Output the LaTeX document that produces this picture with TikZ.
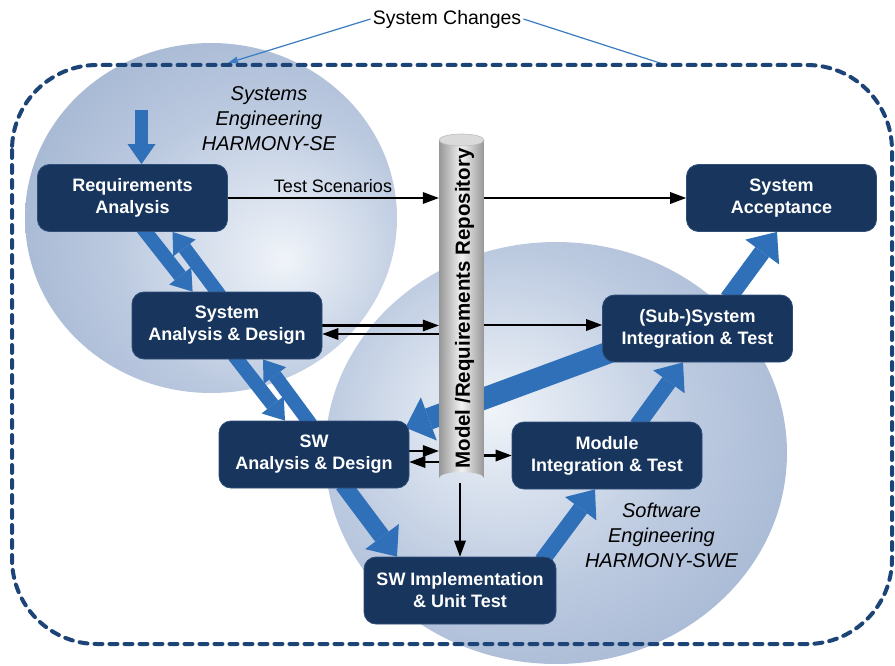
\documentclass[tikz,border=0pt]{standalone}
\usepackage{fontspec}
\setmainfont{Liberation Sans}
\usetikzlibrary{arrows.meta,calc}
\definecolor{boxfill}{HTML}{17355D}
\definecolor{boxline}{HTML}{2E4E7A}
\definecolor{fatblue}{HTML}{2F70B8}
\definecolor{dashblue}{HTML}{1D4477}
\definecolor{thinblue}{HTML}{3A7BC4}
\definecolor{sphl}{HTML}{F0F4F9}
\definecolor{sphm}{HTML}{BCCAE0}
\definecolor{sphd}{HTML}{8BA1C3}
\definecolor{cylside}{HTML}{979797}
\definecolor{cylmid}{HTML}{F2F2F2}
\definecolor{cyltop}{HTML}{DADADA}
\definecolor{cyledge}{HTML}{BDBDBD}
\pgfdeclareradialshading{seball}{\pgfpoint{10bp}{-6bp}}{color(0bp)=(sphl); color(20bp)=(sphm); color(50bp)=(sphd); color(80bp)=(sphd)}
\pgfdeclareradialshading{sweball}{\pgfpoint{-7bp}{5bp}}{color(0bp)=(sphl); color(20bp)=(sphm); color(50bp)=(sphd); color(80bp)=(sphd)}
\pgfdeclarelayer{sphlayer}
\pgfdeclarelayer{arrlayer}
\pgfdeclarelayer{cyllayer}
\pgfsetlayers{sphlayer,arrlayer,cyllayer,main}
\begin{document}
\begin{tikzpicture}[x=1pt,y=-1pt,
  box/.style={rectangle, rounded corners=12pt, fill=boxfill, draw=boxline, line width=0.8pt,
    text=white, font=\bfseries\fontsize{18}{22}\selectfont, align=center,
    minimum width=190pt, minimum height=67pt, inner sep=2pt},
  fat/.style={draw=fatblue, line width=14pt, -{Triangle[length=20pt,width=28pt,line width=0pt]}},
  fatter/.style={draw=fatblue, line width=17pt, -{Triangle[length=25pt,width=42pt,line width=0pt]}},
  fattest/.style={draw=fatblue, line width=22pt, -{Triangle[length=25pt,width=46pt,line width=0pt]}},
  flow/.style={draw=black, line width=2.4pt, -{Triangle[length=16pt,width=12pt,line width=0pt]}},
  ital/.style={font=\itshape\fontsize{20}{25}\selectfont, align=center},
  dashbox/.style={draw=dashblue, line width=4pt, line cap=round, dash pattern=on 8pt off 7pt, rounded corners=85pt},
  thin/.style={draw=thinblue, line width=1.2pt}
]
\useasboundingbox (0,0) rectangle (895,666);

% process boxes (main layer, on top of everything)
\node[box] (req) at (132.5,198) {Requirements\\Analysis};
\node[box] (sysad) at (227,325.5) {System\\Analysis \& Design};
\node[box] (swad) at (314,454.5) {SW\\Analysis \& Design};
\node[box, minimum width=192pt] (swimpl) at (460,590.5) {SW Implementation\\\& Unit Test};
\node[box] (module) at (607,455.5) {Module\\Integration \& Test};
\node[box] (subsys) at (697.5,328.5) {(Sub-)System\\Integration \& Test};
\node[box] (accept) at (781.5,198) {System\\Acceptance};
\node[minimum width=45pt, minimum height=344pt, inner sep=0pt] (repo) at (461.5,311) {};

% sphere labels
\node[ital] (selab) at (269,119) {Systems\\Engineering\\HARMONY-SE};
\node[ital] (swelab) at (661.5,535) {Software\\Engineering\\HARMONY-SWE};

% spheres, boundary, system changes
\begin{pgfonlayer}{sphlayer}
\shade[shading=seball] (211,218) ellipse [x radius=186, y radius=175];
\shade[shading=sweball] (556,453) ellipse [x radius=231, y radius=211];
\node[font=\fontsize{19.5}{22}\selectfont, inner sep=2pt] (sc) at (447,19) {System Changes};
\coordinate (scl) at (228,63);
\coordinate (scr) at (663,64);
\draw[thin, -{Triangle[length=10pt,width=7pt,line width=0pt]}] (sc.west) -- (scl);
\draw[thin] (sc.east) -- (scr);
\draw[dashbox] (12,65) rectangle (892,644);
\end{pgfonlayer}

% blue process arrows
\begin{pgfonlayer}{arrlayer}
\coordinate (intop) at (141.5,110);
\draw[fat, line width=13pt] (intop) -- ($(req.north)+(9,0)$);
\draw[fat] ($(req.south)+(10,-4)$) -- ($(sysad.north west)+(61,0)$);
\draw[fat] ($(sysad.north)+(-7,4)$) -- ($(req.south)+(40,0)$);
\draw[fat] ($(sysad.south)+(7,-4)$) -- ($(swad.north)+(-29,0)$);
\draw[fat] ($(swad.north)+(-3,4)$) -- ($(sysad.south)+(36,0)$);
\draw[fatter] ($(swad.south)+(29,-4)$) -- ($(swimpl.north)+(-63,0)$);
\draw[fatter, line width=16pt, -{Triangle[length=24pt,width=39pt,line width=0pt]}] ($(swimpl.north)+(82,4)$) -- ($(module.south)+(-12,0)$);
\draw[fatter, line width=16pt, -{Triangle[length=24pt,width=39pt,line width=0pt]}] ($(module.north)+(30,4)$) -- ($(subsys.south)+(-14.5,0)$);
\draw[fatter] ($(subsys.north)+(30.5,4)$) -- ($(accept.south)+(-4.5,0)$);
\draw[fattest] ($(subsys.west)+(12,22)$) -- ($(swad.north east)+(-4,7)$);
\end{pgfonlayer}

% repository cylinder and information flows
\begin{pgfonlayer}{cyllayer}
\shade[left color=cylside, right color=cylside, middle color=cylmid]
  (439,140) -- (439,478) arc[start angle=180, end angle=360, x radius=22.5, y radius=6] -- (484,140) -- cycle;
\draw[fill=cyltop, draw=cyledge, line width=0.6pt] (461.5,140) ellipse [x radius=22.5, y radius=6];
\node[rotate=90, font=\bfseries\fontsize{20.5}{24}\selectfont, inner sep=0pt] (repolabel) at (464.5,308.5) {Model /Requirements Repository};
\draw[flow] (req.east) -- (req.east -| repo.west);
\node[font=\fontsize{18}{20}\selectfont] (ts) at (333,186) {Test Scenarios};
\draw[flow] (accept.west -| repo.east) -- (accept.west);
\draw[flow] (sysad.east) -- (sysad.east -| repo.west);
\coordinate (sr) at ($(sysad.east)+(0,8.5)$);
\draw[flow] (sr -| repo.west) -- (sr);
\coordinate (ss) at ($(subsys.west)+(0,-3.5)$);
\draw[flow] (ss -| repo.east) -- (ss);
\coordinate (wo) at ($(swad.east)+(0,-3.5)$);
\draw[flow] (wo) -- (wo -| repo.west);
\coordinate (wb) at ($(swad.east)+(0,7.5)$);
\draw[flow] (wb -| repo.west) -- (wb);
\draw[flow] (module.west -| repo.east) -- (module.west);
\draw[flow] (repo.south -| swimpl.north) -- (swimpl.north);
\end{pgfonlayer}
\end{tikzpicture}
\end{document}
